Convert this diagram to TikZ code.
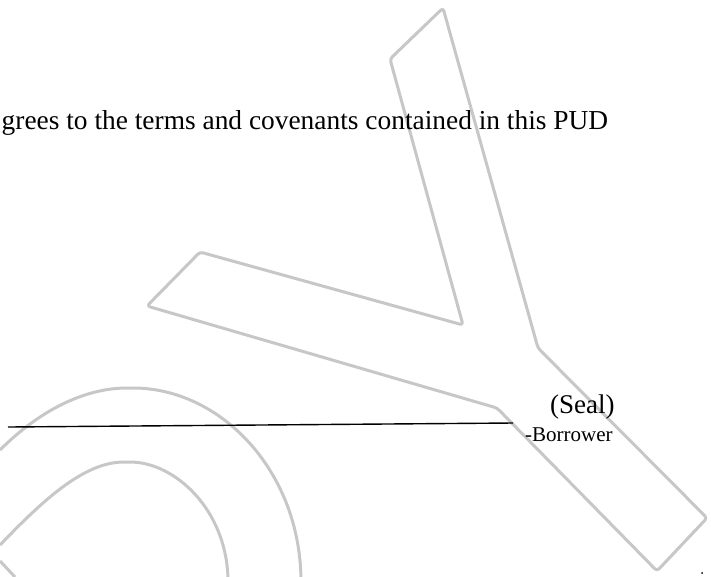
\documentclass[tikz,border=0pt]{standalone}
\usepackage{fontspec}
\setmainfont{Liberation Serif}
\usetikzlibrary{positioning}
\tikzset{
mark line/.style={draw=black!22, line width=3pt, rounded corners=3pt, line join=round},
sig line/.style={draw=black, line width=1.4pt},
body text/.style={inner sep=0pt, font=\fontsize{27.4}{32}\selectfont},
seal text/.style={inner sep=0pt, font=\fontsize{27}{32}\selectfont},
small text/.style={inner sep=0pt, font=\fontsize{21}{25}\selectfont}
}

\begin{document}
\begin{tikzpicture}[x=1pt,y=-1pt]
	\useasboundingbox (0,0) rectangle (711,576);

	% watermark Y
	\coordinate (ytop) at (443,8);
	\coordinate (ybend) at (538,348);
	\coordinate (yfoot) at (707,518);
	\coordinate (yheel) at (657,571);
	\coordinate (ylow) at (497,408);
	\coordinate (yarmb) at (147,306);
	\coordinate (yarmt) at (200,252);
	\coordinate (yfork) at (463,325);
	\coordinate (yleft) at (390,59);
	\draw[mark line] (ytop) -- (ybend) -- (yfoot) -- (yheel) -- (ylow) -- (yarmb) -- (yarmt) -- (yfork) -- (yleft) -- cycle;

	% watermark O
	\draw[mark line] (0,450) .. controls (40,410) and (85,388) .. (130,388) .. controls (220,388) and (300,470) .. (301,580);
	\draw[mark line] (0,545) .. controls (45,498) and (85,462) .. (127,462) .. controls (175,462) and (227,510) .. (228,580);
	\draw[mark line] (0,561) -- (15,577);

	% text and signature line
	\node[body text, anchor=base west] (terms) at (1.5,129) {grees to the terms and covenants contained in this PUD};
	\coordinate (sigstart) at (8,427);
	\coordinate (sigend) at (513,423);
	\draw[sig line] (sigstart) -- (sigend);
	\node[seal text, anchor=base west] (seal) at (550,413) {(Seal)};
	\node[small text, anchor=base west] (borrower) at (525,441) {-Borrower};
	\fill (702,573) circle (1pt);
\end{tikzpicture}
\end{document}
